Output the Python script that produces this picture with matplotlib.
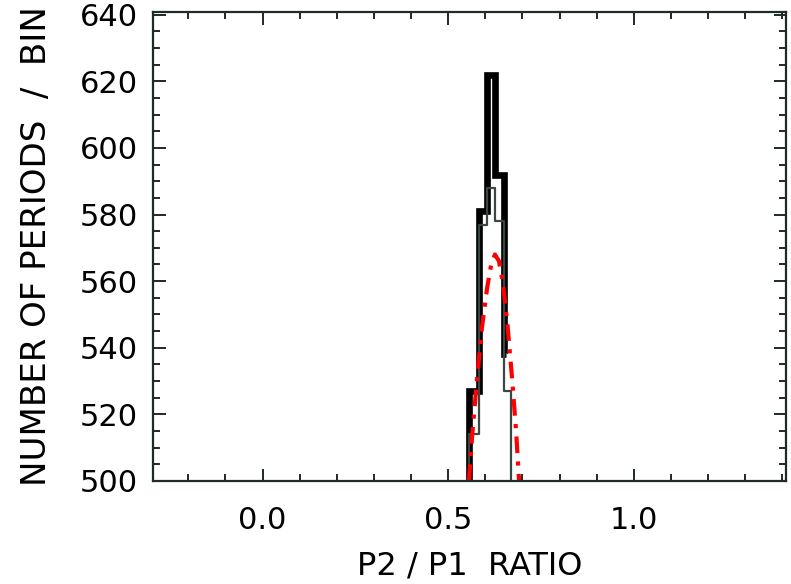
import matplotlib.pyplot as plt
import numpy as np

# bin edges of the period-ratio histograms
edges_black = [0.557, 0.584, 0.605, 0.626, 0.650, 0.656]
edges_grey = [0.557, 0.584, 0.605, 0.626, 0.650, 0.669]
# thick black histogram (counts per bin)
counts_black = [527, 581, 622, 592, 538]
# thin grey histogram
counts_grey = [514, 577, 588, 578, 527]

# fitted curve (dash-dot red)
fit_x = [0.556, 0.565, 0.578, 0.591, 0.605, 0.616, 0.626, 0.637, 0.648, 0.659, 0.672, 0.683, 0.691]
fit_y = [500, 514, 531, 546, 558, 565, 568, 566, 559, 548, 531, 515, 500]

x_ticks = [0.0, 0.5, 1.0]
y_ticks = [500, 520, 540, 560, 580, 600, 620, 640]

fig = plt.figure(figsize=(7.91, 5.84), dpi=100)
ax = fig.add_axes([153 / 791, (584 - 481) / 584, (786 - 153) / 791, (481 - 12) / 584])

axis_col = '#1e2b28'


def step_xy(edges, counts, base=495, close=True):
    xs = [edges[0]]
    ys = [base]
    for i, c in enumerate(counts):
        xs += [edges[i], edges[i + 1]]
        ys += [c, c]
    if close:
        xs.append(edges[-1])
        ys.append(base)
    return xs, ys


xb, yb = step_xy(edges_black, counts_black, close=False)
ax.plot(xb, yb, color='black', lw=4.8, solid_joinstyle='miter', solid_capstyle='butt')
xg, yg = step_xy(edges_grey, counts_grey)
ax.plot(xg, yg, color='#3c4644', lw=1.6)

ax.plot(fit_x, fit_y, color='red', lw=3, linestyle=(0, (4, 2, 1, 2)))

ax.set_xlim(-0.295, 1.41)
ax.set_ylim(500, 640.8)
ax.set_xticks(x_ticks)
ax.set_xticklabels(['0.0', '0.5', '1.0'])
ax.set_yticks(y_ticks)
ax.set_xticks(np.arange(-0.2, 1.41, 0.1), minor=True)
ax.set_yticks(np.arange(505, 641, 5), minor=True)

for s in ax.spines.values():
    s.set_color(axis_col)
    s.set_linewidth(1.6)

ax.tick_params(which='both', direction='in', top=True, right=True, colors=axis_col,
               labelcolor='black', labelsize=22)
ax.tick_params(which='major', length=9, width=1.4)
ax.tick_params(which='minor', length=5, width=1.4)
ax.tick_params(axis='x', which='major', pad=18)
ax.tick_params(axis='y', which='major', pad=11)

ax.set_xlabel('P2 / P1  RATIO', fontsize=23, labelpad=11)
ax.set_ylabel('NUMBER OF PERIODS  /  BIN', fontsize=24.5, labelpad=19)

fig.savefig('out.png', dpi=100)
